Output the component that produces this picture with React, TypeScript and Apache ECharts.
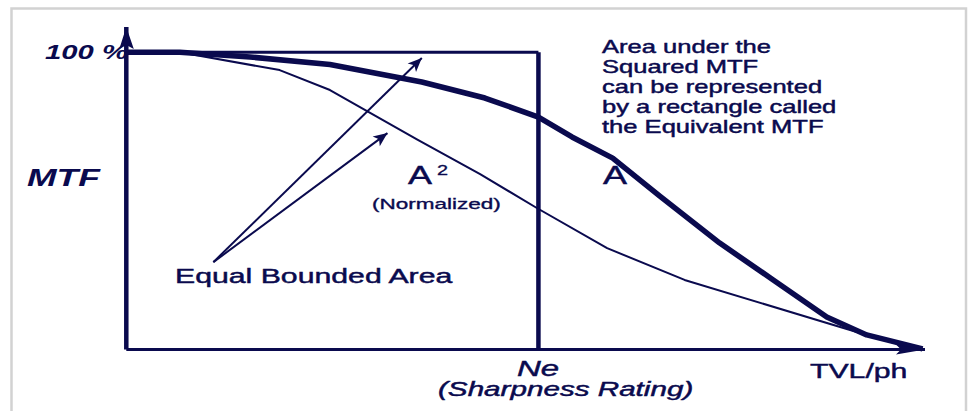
import React, { useEffect, useRef } from "react";
import * as echarts from "echarts";

// ---- data (axis units: x = relative TVL/ph 0..100, y = MTF %) ----
const xMax = 100;
const yMax = 108.5; // room for the axis arrow above 100 %
const fullScale = 100;
const neValue = 51.6; // equivalent MTF / sharpness rating position

// MTF curve "A"
const curveA: number[][] = [
  [0, 100], [6.7, 100], [15.5, 98.4], [25.5, 95.9], [37.0, 90.0], [44.9, 84.6],
  [51.6, 78.2], [55.8, 71.5], [60.9, 64.4], [66.8, 51.6], [74.3, 35.8],
  [81.0, 23.4], [87.7, 10.9], [92.7, 4.9], [99.7, 0.2],
];

// Squared MTF "A^2" (normalized)
const curveA2: number[][] = [
  [0, 100], [6.7, 100], [19.2, 94.0], [25.5, 87.3], [36.5, 70.5], [44.3, 59.0],
  [51.4, 47.6], [60.2, 34.1], [69.9, 23.4], [90.2, 6.9], [97.5, 1.2],
];

// Equivalent MTF rectangle
const rectTop: number[][] = [[0, fullScale], [neValue, fullScale]];
const rectSide: number[][] = [[neValue, fullScale], [neValue, 0]];

// axes drawn as lines (arrowheads added at their ends)
const xAxisLineData: number[][] = [[0, 0], [xMax, 0]];
const yAxisLineData: number[][] = [[0, 0], [0, yMax]];

// "Equal Bounded Area" pointer arrows
const arrowStart: number[] = [10.9, 29.4];
const arrowTips: number[][] = [[37.0, 98.1], [32.7, 72.8]];

// texts
const calloutLines = [
  "Area under the",
  "Squared MTF",
  "can be represented",
  "by a rectangle called",
  "the Equivalent MTF",
];

const NAVY = "#0a0a4e";
const FONT = "'Liberation Sans', Arial, sans-serif";

function txt(text: string, x: number, y: number, fontSize: number, scaleX: number,
  opts: { weight?: string; italic?: boolean; stroke?: number } = {}) {
  return {
    type: "text", x, y, scaleX, z: 10, silent: true,
    style: {
      text, x: 0, y: 0, fill: NAVY, stroke: NAVY, lineWidth: opts.stroke ?? 0.45,
      fontSize, fontFamily: FONT, fontWeight: opts.weight || "normal",
      fontStyle: opts.italic ? "italic" : "normal",
      align: "left", verticalAlign: "middle", textAlign: "left", textVerticalAlign: "middle",
    },
  };
}

const plainLine = (name: string, data: number[][], width: number, z: number) => ({
  name, type: "line", data, showSymbol: false, symbol: "none", clip: false, silent: true,
  lineStyle: { color: NAVY, width, join: "round" }, z,
});

export default function App() {
  const ref = useRef<HTMLDivElement>(null);
  useEffect(() => {
    document.body.style.margin = "0";
    if (!ref.current) return;
    const chart = echarts.init(ref.current, undefined, { renderer: "svg" });

    const option: any = {
      animation: false,
      backgroundColor: "#ffffff",
      grid: { left: 126.3, right: 43, top: 27, bottom: 61.5, containLabel: false },
      xAxis: { type: "value", min: 0, max: xMax, axisLine: { show: false }, axisTick: { show: false },
        axisLabel: { show: false }, splitLine: { show: false } },
      yAxis: { type: "value", min: 0, max: yMax, axisLine: { show: false }, axisTick: { show: false },
        axisLabel: { show: false }, splitLine: { show: false } },
      series: [
        plainLine("xAxisLine", xAxisLineData, 3, 6),
        plainLine("yAxisLine", yAxisLineData, 4.5, 6),
        { ...plainLine("A2", curveA2, 2, 3),
          markLine: { silent: true, symbol: ["none", "arrow"], symbolSize: [9, 14], label: { show: false },
            lineStyle: { color: NAVY, width: 2, type: "solid" },
            data: arrowTips.map((tip) => [{ coord: arrowStart }, { coord: tip }]) } },
        plainLine("A", curveA, 5.5, 4),
        plainLine("rectTop", rectTop, 3, 5),
        plainLine("rectSide", rectSide, 4.5, 5),
      ],
    };
    chart.setOption(option);

    // arrowheads at the ends of the axes, positioned through the chart's own scales
    const yTip = chart.convertToPixel({ gridIndex: 0 }, [0, yMax]) as number[];
    const xTip = chart.convertToPixel({ gridIndex: 0 }, [xMax, 0]) as number[];
    const yHead = {
      type: "polygon", z: 12, silent: true,
      shape: { points: [
        [yTip[0], yTip[1]], [yTip[0] + 7.5, yTip[1] + 22], [yTip[0], yTip[1] + 18], [yTip[0] - 7, yTip[1] + 22],
      ] },
      style: { fill: NAVY },
    };
    const xHead = {
      type: "polygon", z: 12, silent: true,
      shape: { points: [
        [xTip[0], xTip[1]], [xTip[0] - 29, xTip[1] - 5], [xTip[0] - 24, xTip[1]], [xTip[0] - 29, xTip[1] + 5],
      ] },
      style: { fill: NAVY },
    };

    const graphics: any[] = [
      { type: "rect", z: 0, silent: true, shape: { x: 11.5, y: 8.5, width: 954.5, height: 460 },
        style: { fill: "none", stroke: "#d2d2d2", lineWidth: 2.5 } },
      yHead,
      xHead,
      txt("100 %", 45, 52, 19.5, 1.5, { weight: "bold", italic: true, stroke: 0 }),
      txt("MTF", 27, 178, 24, 1.48, { weight: "bold", italic: true, stroke: 0 }),
      ...calloutLines.map((t, i) => txt(t, 602, 46.5 + i * 20, 18, 1.42)),
      txt("A", 603, 176, 25, 1.44),
      txt("A", 408, 176, 25, 1.44),
      txt("2", 437, 170, 14, 1.42, { stroke: 0.3 }),
      txt("(Normalized)", 372, 204, 15, 1.5, { stroke: 0.35 }),
      txt("Equal Bounded Area", 175, 275.5, 21, 1.44),
      txt("Ne", 517, 369, 22, 1.5, { italic: true }),
      txt("(Sharpness Rating)", 438, 389.5, 19.5, 1.52, { italic: true }),
      txt("TVL/ph", 810, 371, 21, 1.44),
    ];
    chart.setOption({ graphic: graphics });

    return () => { chart.dispose(); };
  }, []);
  return <div ref={ref} style={{ position: "absolute", left: 0, top: 0, width: 968, height: 411 }} />;
}
